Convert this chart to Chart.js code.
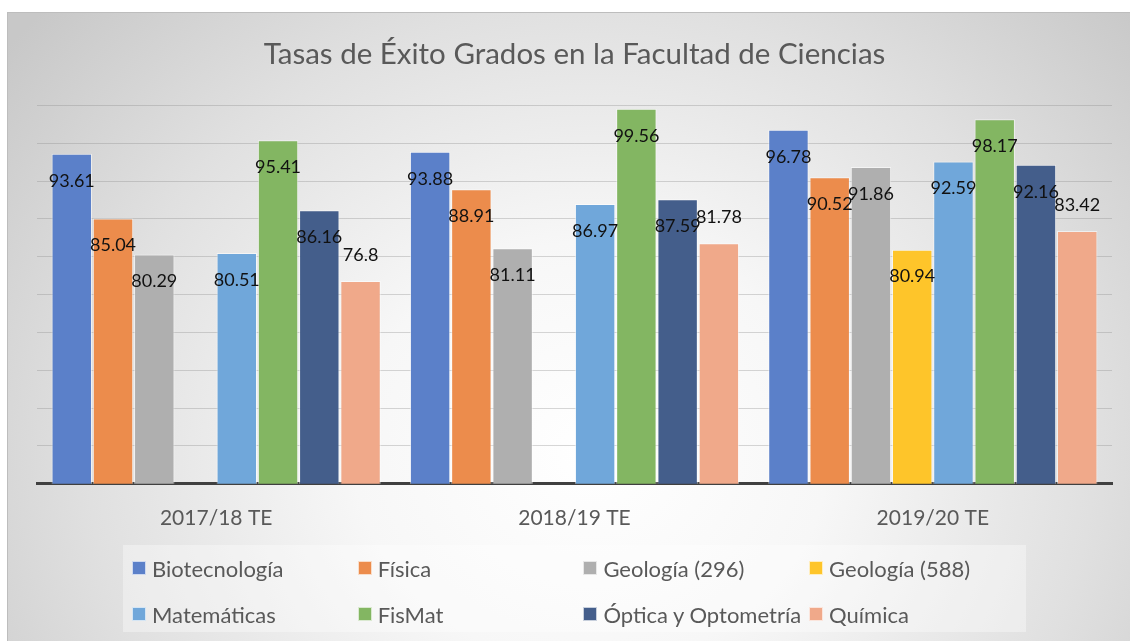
<!DOCTYPE html>
<html lang="es">
<head>
<meta charset="UTF-8">
<title>Tasas de Éxito Grados en la Facultad de Ciencias</title>
<script src="https://cdn.jsdelivr.net/npm/chart.js@4.4.1/dist/chart.umd.min.js"></script>
<style>
    html, body { margin: 0; padding: 0; background: #fff; }
    body { width: 1130px; height: 641px; position: relative; overflow: hidden; font-family: Lato, sans-serif; }
    .chart-bg {
        position: absolute; left: 7px; top: 12px; width: 1140px; height: 640px;
        border: 1.5px solid #bdbdbd;
        background: radial-gradient(ellipse 740px 660px at 583px 440px, #ffffff 0%, #f7f7f7 32%, #e0e0e0 68%, #c8c8c8 100%);
    }
    #tasasChart { position: absolute; left: 0; top: 0; }
    .legend-box {
        position: absolute; left: 123px; top: 545px; width: 903px; height: 87px;
        background: rgba(255, 255, 255, 0.35);
    }
    .legend-item {
        position: absolute; display: flex; align-items: center; height: 26px;
        font-size: 22px; color: #595959; white-space: nowrap;
    }
    .legend-item span.box {
        display: inline-block; width: 12px; height: 12px; margin-right: 6px;
        border: 1px solid rgba(255, 255, 255, 0.7);
    }
</style>
</head>
<body>
<div class="chart-bg"></div>
<canvas id="tasasChart" width="1130" height="641"></canvas>
<div class="legend-box" id="legendBox"></div>

<script>
// Datos del gráfico
const cursos = ['2017/18 TE', '2018/19 TE', '2019/20 TE'];
const grados = ['Biotecnología', 'Física', 'Geología (296)', 'Geología (588)', 'Matemáticas', 'FisMat', 'Óptica y Optometría', 'Química'];

const biotecnologia = [93.61, 93.88, 96.78];
const fisica = [85.04, 88.91, 90.52];
const geologia296 = [80.29, 81.11, 91.86];
const geologia588 = [null, null, 80.94];
const matematicas = [80.51, 86.97, 92.59];
const fismat = [95.41, 99.56, 98.17];
const optica = [86.16, 87.59, 92.16];
const quimica = [76.8, 81.78, 83.42];

const series = [biotecnologia, fisica, geologia296, geologia588, matematicas, fismat, optica, quimica];

// Colores de cada grado
const colores = ['#5B80C9', '#EC8C4C', '#AFAFAF', '#FEC52A', '#70A7DA', '#83B662', '#445E8B', '#F0A98A'];

// Etiquetas con el valor de cada barra (Química va encima de la barra)
const etiquetasValores = {
    id: 'etiquetasValores',
    afterDatasetsDraw(chart) {
        const ctx = chart.ctx;
        ctx.save();
        ctx.font = '18px Lato';
        ctx.fillStyle = '#111';
        ctx.textAlign = 'center';
        ctx.textBaseline = 'middle';
        chart.data.datasets.forEach((ds, i) => {
            const meta = chart.getDatasetMeta(i);
            meta.data.forEach((bar, j) => {
                const valor = ds.data[j];
                if (valor === null) return;
                const dy = ds.label === 'Química' ? -26 : 27;
                ctx.fillText(String(valor), bar.x, bar.y + dy);
            });
        });
        ctx.restore();
    }
};

const ctx = document.getElementById('tasasChart').getContext('2d');
const tasasChart = new Chart(ctx, {
    type: 'bar',
    data: {
        labels: cursos,
        datasets: grados.map((g, i) => ({
            label: g,
            data: series[i],
            backgroundColor: colores[i],
            borderColor: 'rgba(255, 255, 255, 0.55)',
            borderWidth: 1,
            categoryPercentage: 0.921,
            barPercentage: 0.98
        }))
    },
    options: {
        responsive: false,
        animation: false,
        layout: {
            padding: { left: 37, right: 18, top: 0, bottom: 88 }
        },
        plugins: {
            legend: { display: false },
            tooltip: { enabled: false },
            title: {
                display: true,
                text: 'Tasas de Éxito Grados en la Facultad de Ciencias',
                color: '#595959',
                font: { family: 'Lato', size: 29.5, weight: 'normal' },
                padding: { top: 37, bottom: 33 }
            }
        },
        scales: {
            x: {
                grid: { display: false, drawTicks: false },
                border: { color: '#404040', width: 3 },
                ticks: {
                    color: '#595959',
                    font: { family: 'Lato', size: 21 },
                    padding: 22
                }
            },
            y: {
                min: 50,
                max: 100,
                ticks: { display: false, stepSize: 5 },
                grid: { color: 'rgba(140, 140, 140, 0.35)', drawTicks: false },
                border: { display: false }
            }
        }
    },
    plugins: [etiquetasValores]
});

// Leyenda en HTML, 4 columnas y 2 filas
const legendBox = document.getElementById('legendBox');
grados.forEach((g, i) => {
    const item = document.createElement('div');
    item.className = 'legend-item';
    item.style.left = (9 + (i % 4) * 225.7) + 'px';
    item.style.top = (10 + Math.floor(i / 4) * 46) + 'px';
    item.innerHTML = `<span class="box" style="background:${colores[i]}"></span>${g}`;
    legendBox.appendChild(item);
});
</script>
</body>
</html>
